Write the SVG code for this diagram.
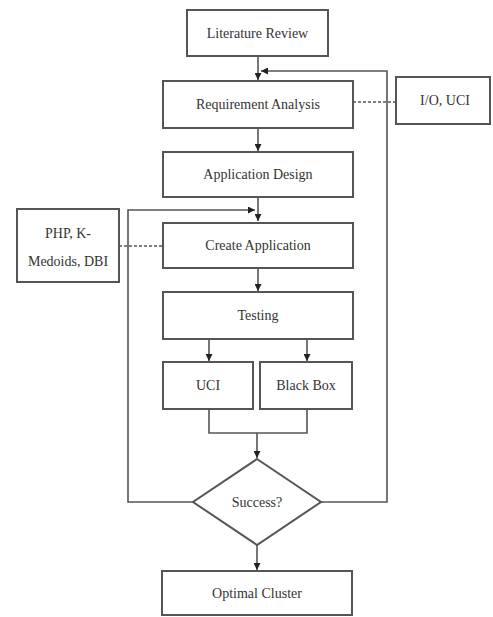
<svg xmlns="http://www.w3.org/2000/svg" width="493" height="617" viewBox="0 0 493 617">
  <defs>
    <marker id="arrow" viewBox="0 0 10 10" refX="10" refY="5" markerWidth="7" markerHeight="7" markerUnits="userSpaceOnUse" orient="auto">
      <path d="M0,0 L10,5 L0,10 z" fill="#222"/>
    </marker>
    <style>
      .box { fill: #fff; stroke: #555; stroke-width: 2; }
      .lbl { font-family: "Liberation Serif", "Times New Roman", serif; font-size: 14px; fill: #333; text-anchor: middle; }
      .wire { fill: none; stroke: #555; stroke-width: 1.6; }
      .arr { marker-end: url(#arrow); }
      .dash { fill: none; stroke: #555; stroke-width: 1.6; stroke-dasharray: 3 2; }
    </style>
  </defs>

  <rect width="493" height="617" fill="#fff"/>

  <!-- connectors -->
  <g id="connectors">
    <line class="wire arr" x1="258" y1="56" x2="258" y2="80"/>
    <polyline class="wire arr" points="321,502 387,502 387,71 261,71"/>
    <line class="wire arr" x1="258" y1="128" x2="258" y2="151"/>
    <line class="wire arr" x1="258" y1="197" x2="258" y2="221"/>
    <polyline class="wire arr" points="193,502 128,502 128,210 255,210"/>
    <line class="wire arr" x1="258" y1="268" x2="258" y2="291"/>
    <line class="wire arr" x1="209" y1="339" x2="209" y2="361"/>
    <line class="wire arr" x1="307" y1="339" x2="307" y2="361"/>
    <polyline class="wire" points="209,409 209,433 307,433 307,409"/>
    <line class="wire arr" x1="257" y1="433" x2="257" y2="458"/>
    <line class="wire arr" x1="257" y1="545" x2="257" y2="570"/>
    <line class="dash" x1="353" y1="102" x2="396" y2="102"/>
    <line class="dash" x1="119" y1="246" x2="163" y2="246"/>
  </g>

  <g id="literature-review">
    <rect class="box" x="187" y="10" width="141" height="46"/>
    <text class="lbl" x="257.5" y="38">Literature Review</text>
  </g>

  <g id="requirement-analysis">
    <rect class="box" x="163" y="81" width="190" height="47"/>
    <text class="lbl" x="258" y="109">Requirement Analysis</text>
  </g>

  <g id="io-uci">
    <rect class="box" x="396" y="77" width="94" height="47"/>
    <text class="lbl" x="445" y="105">I/O, UCI</text>
  </g>

  <g id="application-design">
    <rect class="box" x="163" y="152" width="190" height="45"/>
    <text class="lbl" x="258" y="179">Application Design</text>
  </g>

  <g id="create-application">
    <rect class="box" x="163" y="223" width="190" height="45"/>
    <text class="lbl" x="258" y="250">Create Application</text>
  </g>

  <g id="php-kmedoids-dbi">
    <rect class="box" x="17" y="209" width="102" height="73"/>
    <text class="lbl" x="68" y="238">PHP, K-</text>
    <text class="lbl" x="68" y="266">Medoids, DBI</text>
  </g>

  <g id="testing">
    <rect class="box" x="163" y="292" width="190" height="47"/>
    <text class="lbl" x="258" y="320">Testing</text>
  </g>

  <g id="uci">
    <rect class="box" x="163" y="362" width="90" height="47"/>
    <text class="lbl" x="208" y="390">UCI</text>
  </g>

  <g id="black-box">
    <rect class="box" x="260" y="362" width="92" height="47"/>
    <text class="lbl" x="306" y="390">Black Box</text>
  </g>

  <g id="success">
    <polygon class="box" points="257,459 321,502 257,545 193,502"/>
    <text class="lbl" x="257" y="507">Success?</text>
  </g>

  <g id="optimal-cluster">
    <rect class="box" x="162" y="571" width="190" height="44"/>
    <text class="lbl" x="257" y="598">Optimal Cluster</text>
  </g>
</svg>
